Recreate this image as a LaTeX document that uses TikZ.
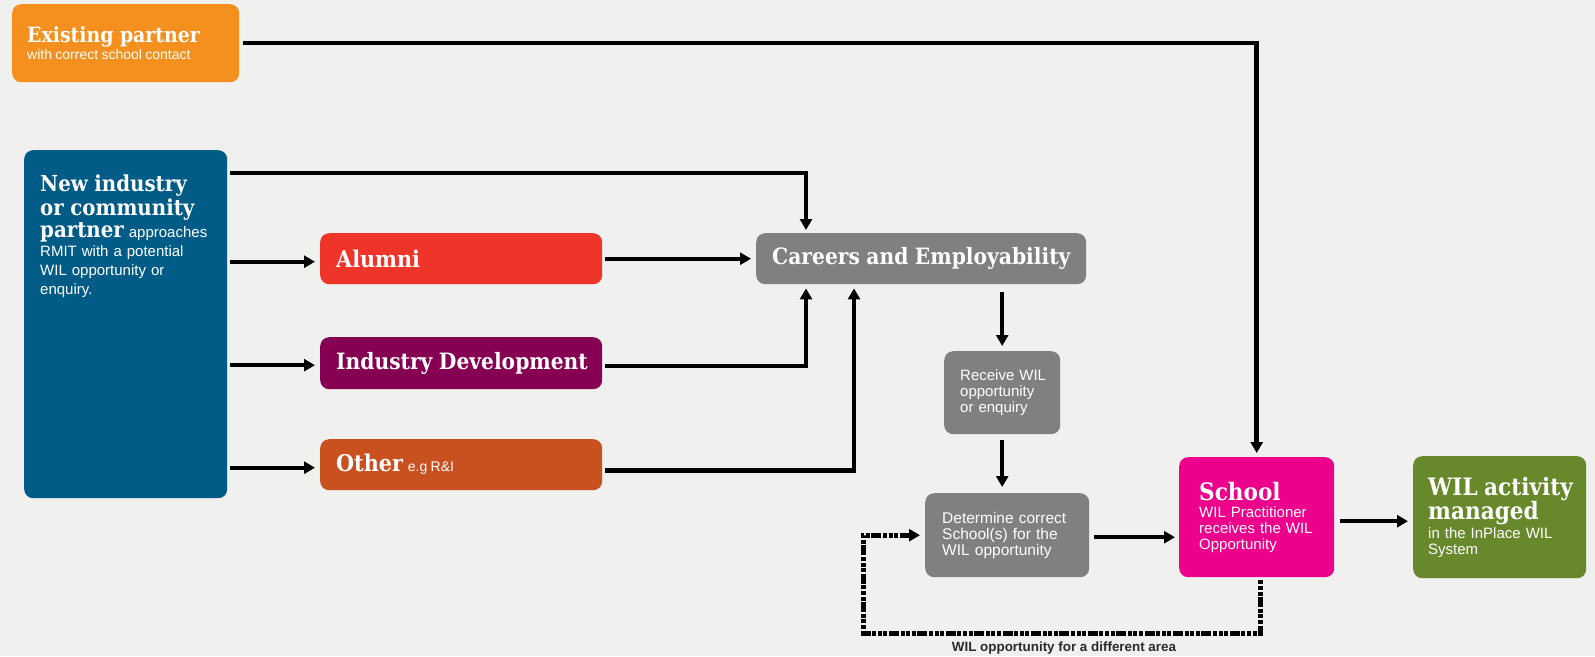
\documentclass[tikz,border=0pt]{standalone}
\usepackage{fontspec}
\setmainfont{Liberation Sans}
\newfontfamily\headfont{DejaVu Serif}[FakeStretch=0.9]
\usetikzlibrary{arrows.meta,calc}
\hyphenpenalty=10000
\exhyphenpenalty=10000
\definecolor{bgc}{HTML}{F0F0EE}
\definecolor{orangec}{HTML}{F5901F}
\definecolor{bluec}{HTML}{005B87}
\definecolor{redc}{HTML}{EF342A}
\definecolor{purplec}{HTML}{850052}
\definecolor{brownc}{HTML}{C9501F}
\definecolor{grayc}{HTML}{808081}
\definecolor{magentac}{HTML}{EC008C}
\definecolor{greenc}{HTML}{68882C}
\definecolor{labc}{HTML}{2A2A2A}
\newcommand{\hd}[1]{{\headfont\bfseries #1}}
\newcommand{\ws}{\nobreak\hspace{6.5pt}}
\tikzset{
  box/.style={rectangle, rounded corners=9pt, text=white, align=left,
    inner xsep=16pt, inner ysep=0pt, anchor=north west},
  conn/.style={line width=4pt, -{Triangle[length=11pt,width=12pt]}},
  dashconn/.style={line width=5pt, -{Triangle[length=11pt,width=12pt]},
    dash pattern=on 4pt off 1.6pt on 4pt off 1.6pt on 4pt off 1.6pt on 10pt off 1.6pt},
  lbl/.style={font=\bfseries\fontsize{13.4}{15}\selectfont, text=labc, inner sep=0pt},
}
\begin{document}
\begin{tikzpicture}[x=1pt,y=-1pt]
\path[use as bounding box, fill=bgc] (0,0) rectangle (1595,656);

% boxes
\node[box, fill=orangec, text width=197pt, minimum height=78pt, inner xsep=15pt] (exist) at (12,4)
  {\hd{\fontsize{21}{22}\selectfont Existing\ws partner}\\[1pt]
   \fontsize{14}{16}\selectfont with~correct~school~contact};

\node[box, fill=bluec, minimum width=203pt, minimum height=348pt, inner sep=0pt] (newp) at (24,150) {};
\node[anchor=north west, text=white, align=left, text width=180pt, inner sep=0pt,
  font=\fontsize{15}{19}\selectfont] (newpt) at (40,175)
  {\hd{\fontsize{22}{23}\selectfont New\ws industry}\\[1pt]
   \hd{\fontsize{22}{23}\selectfont or\ws community}\\[1pt]
   \hd{\fontsize{22}{23}\selectfont partner} approaches\\
   RMIT~with~a~potential\\
   WIL~opportunity~or\\
   enquiry.};

\node[box, fill=redc, text width=250pt, minimum height=51pt] (alumni) at (320,233)
  {\hd{\fontsize{23}{25}\selectfont Alumni}};
\node[box, fill=purplec, text width=250pt, minimum height=52pt] (inddev) at (320,337)
  {\hd{\fontsize{22.5}{25}\selectfont Industry\ws Development}};
\node[box, fill=brownc, text width=250pt, minimum height=51pt] (other) at (320,439)
  {\hd{\fontsize{23}{25}\selectfont Other}\hspace{5pt}{\fontsize{14}{16}\selectfont e.g~R\&I}};

\node[box, fill=grayc, text width=298pt, minimum height=51pt, align=center] (careers) at (756,233)
  {\hd{\fontsize{22.5}{25}\selectfont Careers\ws and\ws Employability}};

\node[box, fill=grayc, text width=84pt, minimum height=83pt,
  font=\fontsize{15}{16}\selectfont] (receive) at (944,351)
  {Receive~WIL\\opportunity\\or~enquiry};

\node[box, fill=grayc, text width=130pt, minimum height=84pt, inner xsep=17pt,
  font=\fontsize{15.5}{16}\selectfont] (determine) at (925,493)
  {Determine~correct\\School(s)~for~the\\WIL~opportunity};

\node[box, fill=magentac, text width=115pt, minimum height=120pt, inner xsep=20pt,
  font=\fontsize{15}{16}\selectfont] (school) at (1179,457)
  {\hd{\fontsize{24}{26}\selectfont School}\\[1pt]
   WIL~Practitioner\\receives~the~WIL\\Opportunity};

\node[box, fill=greenc, text width=143pt, minimum height=122pt, inner xsep=15pt,
  font=\fontsize{15}{16}\selectfont] (wil) at (1413,456)
  {\hd{\fontsize{24}{23}\selectfont WIL\ws activity}\\
   \hd{\fontsize{24}{23}\selectfont managed}\\[1pt]
   in~the~InPlace~WIL\\System};

% connectors
\draw[conn, line width=4.5pt, shorten <=4pt, shorten >=4pt] (exist.east) -| (school.north);
\draw[conn, line width=4.5pt, shorten <=3pt, shorten >=3pt]
  ($(newp.north east)+(0,23)$) -| ($(careers.north west)+(50,0)$);
\draw[conn, shorten <=3pt, shorten >=5pt] ($(newp.east |- alumni.west)+(0,3)$) -- ($(alumni.west)+(0,3)$);
\draw[conn, shorten <=3pt, shorten >=5pt] ($(newp.east |- inddev.west)+(0,2)$) -- ($(inddev.west)+(0,2)$);
\draw[conn, shorten <=3pt, shorten >=5pt] ($(newp.east |- other.west)+(0,3)$) -- ($(other.west)+(0,3)$);
\draw[conn, shorten <=3pt, shorten >=5pt] (alumni.east) -- (careers.west);
\draw[conn, line width=4.5pt, shorten <=3pt, shorten >=4pt]
  ($(inddev.east)+(0,3)$) -| ($(careers.south west)+(50,0)$);
\draw[conn, line width=4.5pt, shorten <=3pt, shorten >=4pt]
  ($(other.east)+(0,6)$) -| ($(careers.south west)+(98,0)$);
\draw[conn, shorten <=8pt, shorten >=5pt] (careers.south -| receive.north) -- (receive.north);
\draw[conn, shorten <=6pt, shorten >=6pt] (receive.south) -- (receive.south |- determine.north);
\draw[conn, shorten <=5pt, shorten >=4pt] ($(determine.east)+(0,2)$) -- ($(determine.east -| school.west)+(0,2)$);
\draw[conn, shorten <=6pt, shorten >=5pt] ($(school.east)+(0,4)$) -- ($(school.east -| wil.west)+(0,4)$);

\coordinate (dl) at (863,633);
\draw[dashconn, shorten <=3pt, shorten >=5pt] ($(school.south)+(4,0)$) |- (dl) |- (determine.west);
\node[lbl] (dlab) at (1064,648) {WIL opportunity for a different area};
\end{tikzpicture}
\end{document}
